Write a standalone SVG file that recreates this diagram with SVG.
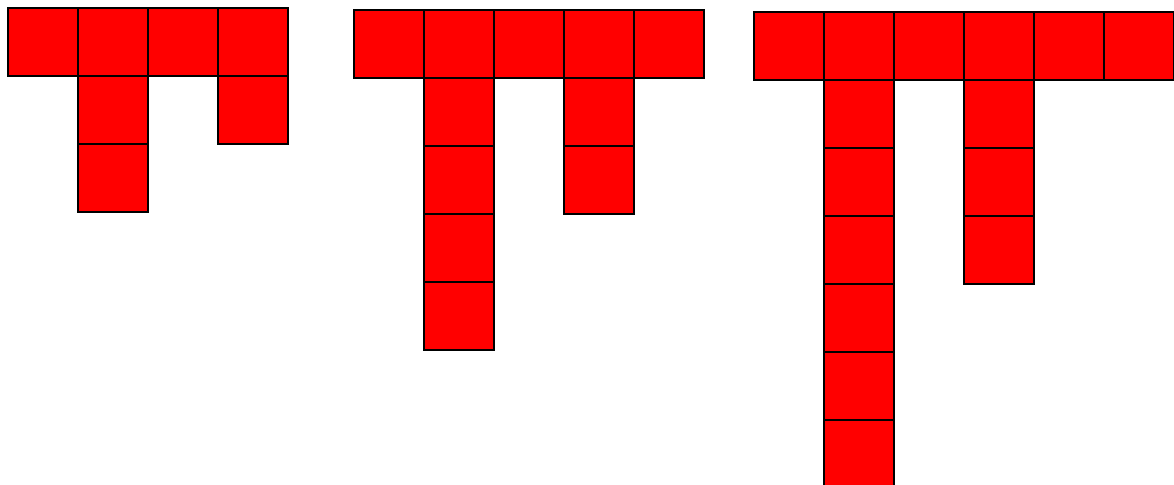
<svg xmlns="http://www.w3.org/2000/svg" width="1174" height="485" viewBox="0 0 1174 485">
<style>
rect.c{fill:#ff0000;stroke:#000;stroke-width:2}
</style>
<defs><rect id="sq" class="c" width="70" height="68"/></defs>
<rect width="1174" height="485" fill="#fff"/>
<g id="figure1">
<use href="#sq" x="8" y="8"/><use href="#sq" x="78" y="8"/><use href="#sq" x="148" y="8"/><use href="#sq" x="218" y="8"/>
<use href="#sq" x="78" y="76"/><use href="#sq" x="78" y="144"/>
<use href="#sq" x="218" y="76"/>
</g>
<g id="figure2">
<use href="#sq" x="354" y="10"/><use href="#sq" x="424" y="10"/><use href="#sq" x="494" y="10"/><use href="#sq" x="564" y="10"/><use href="#sq" x="634" y="10"/>
<use href="#sq" x="424" y="78"/><use href="#sq" x="424" y="146"/><use href="#sq" x="424" y="214"/><use href="#sq" x="424" y="282"/>
<use href="#sq" x="564" y="78"/><use href="#sq" x="564" y="146"/>
</g>
<g id="figure3">
<use href="#sq" x="754" y="12"/><use href="#sq" x="824" y="12"/><use href="#sq" x="894" y="12"/><use href="#sq" x="964" y="12"/><use href="#sq" x="1034" y="12"/><use href="#sq" x="1104" y="12"/>
<use href="#sq" x="824" y="80"/><use href="#sq" x="824" y="148"/><use href="#sq" x="824" y="216"/><use href="#sq" x="824" y="284"/><use href="#sq" x="824" y="352"/><use href="#sq" x="824" y="420"/>
<use href="#sq" x="964" y="80"/><use href="#sq" x="964" y="148"/><use href="#sq" x="964" y="216"/>
</g>
<g id="connectors"/>
</svg>
